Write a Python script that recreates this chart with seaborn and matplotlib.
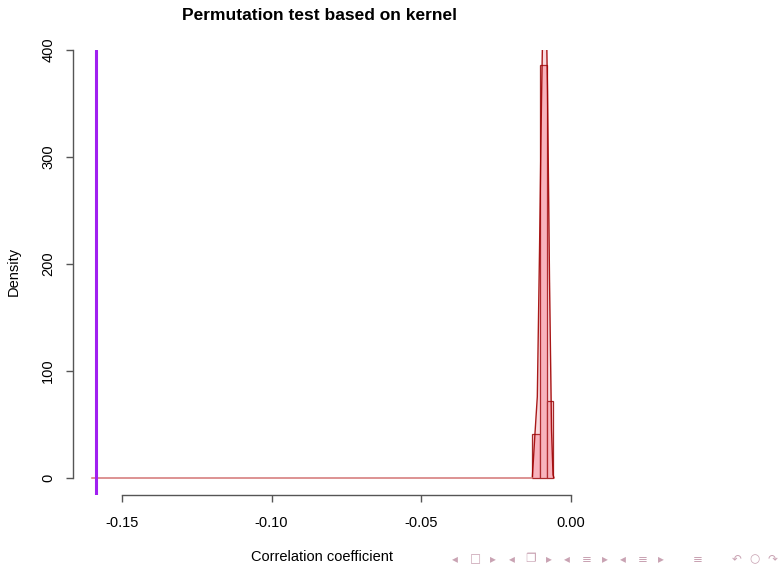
import matplotlib
matplotlib.use("Agg")
import matplotlib.pyplot as plt
import seaborn as sns
import numpy as np
import pandas as pd

# ---- data ----
observed_corr = -0.1586
hist_edges = [-0.01283, -0.01026, -0.00802, -0.00581]
hist_density = [41, 386, 72]
dens_x = [-0.1600, -0.01393, -0.01283, -0.01193, -0.01116, -0.01042, -0.00976,
          -0.00942, -0.00875, -0.00809, -0.00775, -0.00708, -0.00641, -0.00591, -0.00558]
dens_y = [0, 0, 0, 42, 76, 213, 353, 409, 480, 420, 362, 185, 45, 3, 0]
x_ticks = [-0.15, -0.10, -0.05, 0.00]
x_ticklabels = ["-0.15", "-0.10", "-0.05", "0.00"]
y_ticks = [0, 100, 200, 300, 400]
y_ticklabels = ["0", "100", "200", "300", "400"]
title = "Permutation test based on kernel"
xlabel = "Correlation coefficient"
ylabel = "Density"
nav_symbols = ["◂", "□", "▸", "◂", "❐", "▸", "◂", "≡", "▸", "◂", "≡", "▸", "≡", "↶", "○", "↷"]

sns.set_style("white")
plt.rcParams["font.family"] = ["Liberation Sans", "DejaVu Sans"]
plt.rcParams["text.color"] = "black"

W, H = 782, 566
fig = plt.figure(figsize=(W / 100, H / 100), dpi=100)
ax = fig.add_axes([73.3 / W, 1 - 494.5 / H, (571.0 - 73.3) / W, (494.5 - 49.6) / H])

# histogram (density heights as weights)
centers = [(a + b) / 2 for a, b in zip(hist_edges[:-1], hist_edges[1:])]
hist_df = pd.DataFrame({"x": centers, "w": hist_density})
sns.histplot(data=hist_df, x="x", weights="w", bins=hist_edges, stat="count",
             ax=ax, color="#fcd0d6", edgecolor="#a52a2a", linewidth=0.9, alpha=1.0)

# density polygon
dens_df = pd.DataFrame({"x": dens_x, "y": dens_y})
ax.fill_between(dens_df["x"], dens_df["y"], color=(0.9, 0.2, 0.3, 0.18), linewidth=0)
sns.lineplot(data=dens_df, x="x", y="y", ax=ax, color="#a00000", linewidth=1.0,
             alpha=0.9, sort=False)
ax.plot(dens_x[:3], dens_y[:3], color="#e3a0a0", linewidth=1.2)

# observed value
ax.axvline(observed_corr, color="#A020F0", linewidth=2.2)

ax.set_xlim(-0.16625, 0.0001)
ax.set_ylim(-15.4, 400.4)

for s in ["top", "right"]:
    ax.spines[s].set_visible(False)
ax.spines["left"].set_bounds(0, 400)
ax.spines["bottom"].set_bounds(-0.15, 0.0)
for s in ["left", "bottom"]:
    ax.spines[s].set_color("#555555")
    ax.spines[s].set_linewidth(1.0)

ax.set_xticks(x_ticks)
ax.set_xticklabels(x_ticklabels, fontsize=10.5)
ax.set_yticks(y_ticks)
ax.set_yticklabels(y_ticklabels, fontsize=10.5, rotation=90, va="center")
ax.tick_params(axis="both", direction="out", length=5, width=1.0, color="#555555",
               labelcolor="black", left=True, bottom=True)
ax.tick_params(axis="x", pad=10.5)
ax.tick_params(axis="y", pad=8)
ax.set_xlabel("")
ax.set_ylabel("")
ax.grid(False)
ax.patch.set_alpha(0)

fig.text(319 / W, 1 - 15.5 / H, title, ha="center", va="center",
         fontsize=12.5, fontweight="bold", color="black")
fig.text(322 / W, 1 - 557 / H, xlabel, ha="center", va="center", fontsize=10.5,
         color="black")
fig.text(14 / W, 1 - 271 / H, ylabel, ha="center", va="center", fontsize=10.5,
         rotation=90, color="black")

nav_x = [455, 475, 493, 512, 530, 549, 567, 587, 605, 623, 643, 661, 698, 737, 754, 772]
for sx, sym in zip(nav_x, nav_symbols):
    fig.text(sx / W, 1 - 559 / H, sym, ha="center", va="center", fontsize=8.5,
             color="#c9a3b3", family=["DejaVu Sans"])

fig.savefig("out.png", dpi=100)
